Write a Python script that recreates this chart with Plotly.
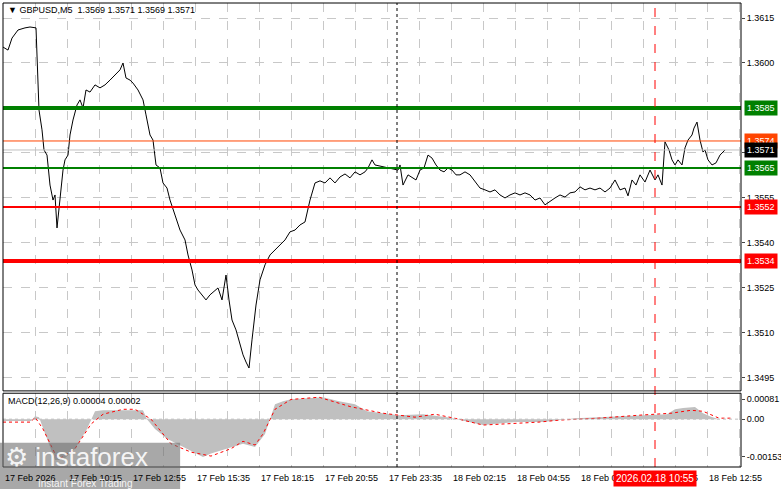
import plotly.graph_objects as go

# price trace (bar index, close)
bars = [0,2.5,4.5,7.5,11,13.5,16.5,17,18,19.5,20.5,22,23.5,25,26,27,28.5,30,31,32.5,33.5,35,37,38.5,40,41.5,43.5,46,48.5,51,53.5,56,58.5,60,61.5,63.5,65,67.5,70,71.5,73.5,75,76.5,78.5,80,82,83.5,86,88.5,91,92.5,94.5,96,97.5,99.5,101.5,103.5,105.5,107.5,109.5,111.5,113,114.5,116.5,118.5,120,121.5,123,124.5,126.5,128.5,131,133.5,136,138.5,141,143.5,146,148.5,151,153.5,156,158.5,161,163.5,166,168.5,171,173.5,176,178.5,181,182.5,184.5,186,197.5,198.5,200,202.5,204.5,206.5,208.5,210.5,212.5,214.5,216.5,218.5,220.5,222.5,224.5,226.5,228.5,231,233.5,236,238.5,241,243.5,246,248.5,251,253.5,256,258.5,261,263.5,266,268.5,271,273.5,276,278.5,281,283.5,286,288.5,291,293.5,296,298.5,301,303.5,306,308.5,311,312.5,314.5,316.5,318.5,321,323.5,326,327.5,329.5,331,333,334.5,336,337.5,339.5,341,342.5,344.5,345.5,347,348.5,350,351,352.5,354.5,356.5,358.5,361]
close = [1.36053,1.36043,1.36083,1.3611,1.36117,1.3612,1.36117,1.3601,1.35843,1.35777,1.3571,1.35693,1.35593,1.35543,1.3556,1.3545,1.35543,1.35643,1.35677,1.35693,1.3576,1.35810,1.3586,1.35877,1.35850,1.35910,1.35903,1.35927,1.35917,1.35927,1.35943,1.3596,1.35977,1.3600,1.3595,1.35943,1.35933,1.35910,1.35877,1.35827,1.3576,1.35743,1.35660,1.35650,1.3560,1.35583,1.35543,1.35493,1.35443,1.3541,1.35360,1.3531,1.3526,1.35243,1.35227,1.3521,1.35227,1.35237,1.3525,1.3521,1.35293,1.3521,1.35143,1.3511,1.35060,1.35027,1.35003,1.34983,1.35077,1.35193,1.35277,1.35327,1.3536,1.35377,1.35393,1.3541,1.35437,1.35443,1.3546,1.3547,1.35543,1.3560,1.35607,1.3560,1.35617,1.35600,1.35620,1.35630,1.35617,1.35637,1.35627,1.35637,1.3565,1.35677,1.35660,1.35643,1.35660,1.35593,1.35627,1.35617,1.3561,1.35643,1.3565,1.35693,1.35683,1.35660,1.35643,1.35637,1.3565,1.35643,1.35627,1.35627,1.35637,1.35627,1.35603,1.35583,1.35577,1.3557,1.35577,1.3556,1.35550,1.3556,1.35567,1.3556,1.35567,1.3556,1.35543,1.3555,1.35527,1.3554,1.3555,1.3556,1.35553,1.35567,1.3557,1.35587,1.35577,1.35583,1.35577,1.35583,1.3557,1.35583,1.3561,1.35577,1.35583,1.35557,1.3561,1.35593,1.35627,1.35603,1.35643,1.35610,1.35627,1.35593,1.35737,1.3571,1.35677,1.3566,1.35677,1.3566,1.35717,1.35743,1.3576,1.35783,1.35803,1.35743,1.35703,1.35710,1.35677,1.3566,1.35667,1.35693,1.3571,1.35717]

# MACD histogram and signal (bar index, value)
macd_bars = [0,14,16,18,22,26,30,36,42,46,50,70,72,76,82,100,104,120,126,131,136,140,144,160,168,176,182,198,210,222,240,256,270,286,298,310,322,332,336,340,346,350,354,358,362]
macd_hist = [-0.00008,-0.00008,0.00012,0.00008,-0.0008,-0.00166,-0.00166,-0.0012,-0.0004,0.00032,0.00036,0.00036,0.0,-0.0004,-0.0008,-0.00154,-0.0014,-0.001,-0.00113,-0.0006,0.0006,0.00073,0.00081,0.00089,0.00073,0.0006,0.00032,0.00016,0.0002,0.00008,-0.00024,-0.00012,-0.00012,0.00004,0.00008,0.00012,0.00016,0.0002,0.0004,0.00045,0.00049,0.00024,0.0001,0.0,0.0]
sig_bars = [0,14,16,20,26,28,36,44,50,60,66,74,84,94,104,114,120,126,130,136,144,158,174,190,198,206,216,228,240,258,268,278,298,318,334,344,350,358,364]
sig_vals = [-0.00012,-0.00012,0.00008,-0.0004,-0.0014,-0.00162,-0.0012,-0.0002,0.0002,0.0004,0.0004,0.0,-0.001,-0.00134,-0.0015,-0.0012,-0.0009,-0.00105,-0.0006,0.0004,0.0008,0.00089,0.0005,0.00024,0.00016,0.00008,0.0002,0.0,-0.00024,-0.00016,-0.00012,-0.00004,0.00004,0.00016,0.00024,0.00036,0.00032,0.00004,0.00004]

price_ticks = [1.3495,1.3510,1.3525,1.3540,1.3555,1.3570,1.3600,1.3615]
time_ticks = [0,32,64,96,128,160,192,224,256,288,320,352]
time_labels = ["17 Feb 2026","17 Feb 10:15","17 Feb 12:55","17 Feb 15:35","17 Feb 18:15","17 Feb 20:55",
               "17 Feb 23:35","18 Feb 02:15","18 Feb 04:55","18 Feb 07:35","18 Feb 10:15","18 Feb 12:55"]
levels = [(1.3585,"#008000",4),(1.3574,"#ff4500",1),(1.3565,"#008000",2),(1.3552,"#ff0000",2),(1.3534,"#ff0000",4)]
last_price = 1.3571
now_bar = 326
sep_bar = 197

F = "Liberation Sans"
fig = go.Figure()
fig.add_trace(go.Scatter(x=macd_bars, y=macd_hist, mode="lines", line=dict(color="#c0c0c0", width=0),
                         fill="tozeroy", fillcolor="#c0c0c0", xaxis="x", yaxis="y2", showlegend=False))
fig.add_trace(go.Scatter(x=sig_bars, y=sig_vals, mode="lines", line=dict(color="#ff0000", width=1, dash="dot"),
                         xaxis="x", yaxis="y2", showlegend=False))
fig.add_trace(go.Scatter(x=bars, y=close, mode="lines", line=dict(color="black", width=1),
                         xaxis="x", yaxis="y", showlegend=False))

shapes = []
for v, c, w in levels:
    shapes.append(dict(type="line", xref="paper", x0=0, x1=1, yref="y", y0=v, y1=v, line=dict(color=c, width=w)))
shapes.append(dict(type="line", xref="paper", x0=0, x1=1, yref="y", y0=last_price, y1=last_price, line=dict(color="#c0c0c0", width=1)))
shapes.append(dict(type="line", xref="x", x0=sep_bar, x1=sep_bar, yref="paper", y0=0, y1=1, line=dict(color="black", width=1, dash="dot")))
shapes.append(dict(type="line", xref="x", x0=now_bar, x1=now_bar, yref="paper", y0=0, y1=1, line=dict(color="#ff0000", width=1, dash="dash")))
shapes.append(dict(type="line", xref="paper", x0=0, x1=1, yref="y2", y0=0, y1=0, line=dict(color="#c0c0c0", width=1, dash="dot")))
shapes.append(dict(type="rect", xref="paper", yref="paper", x0=0, x1=1, y0=0.164, y1=1, line=dict(color="black", width=1)))
shapes.append(dict(type="rect", xref="paper", yref="paper", x0=0, x1=1, y0=0, y1=0.159, line=dict(color="black", width=1)))
# watermark
shapes.append(dict(type="rect", xref="paper", yref="paper", x0=-0.005, x1=0.24, y0=-0.05, y1=0.052,
                   fillcolor="rgba(110,110,110,0.6)", line_width=0, layer="above"))

ann = []
for v, c, w in levels:
    ann.append(dict(xref="paper", x=1.004, yref="y", y=v, text=f"{v:.4f}", showarrow=False, xanchor="left",
                    font=dict(family=F, size=9, color="white"), bgcolor=c, borderpad=2))
ann.append(dict(xref="paper", x=1.004, yref="y", y=last_price, text=f"{last_price:.4f}", showarrow=False, xanchor="left",
                font=dict(family=F, size=9, color="white"), bgcolor="black", borderpad=2))
for t, lab in zip(time_ticks, time_labels):
    ann.append(dict(xref="x", x=t, yref="paper", y=-0.008, text=lab, showarrow=False, xanchor="left", yanchor="top",
                    font=dict(family=F, size=9, color="black")))
ann.append(dict(xref="x", x=now_bar, yref="paper", y=-0.006, text="2026.02.18 10:55", showarrow=False, xanchor="center",
                yanchor="top", font=dict(family=F, size=10, color="white"), bgcolor="#ff0000", borderpad=2))
ann.append(dict(xref="paper", x=0.004, yref="paper", y=1.0, text="▼ GBPUSD,M5  1.3569 1.3571 1.3569 1.3571", showarrow=False,
                xanchor="left", yanchor="top", font=dict(family=F, size=9, color="black")))
ann.append(dict(xref="paper", x=0.004, yref="paper", y=0.157, text="MACD(12,26,9) 0.00004 0.00002", showarrow=False,
                xanchor="left", yanchor="top", font=dict(family=F, size=9, color="black")))
ann.append(dict(xref="paper", x=0.0, yref="paper", y=0.058, text="⚙ instaforex", showarrow=False,
                xanchor="left", yanchor="top", font=dict(family=F, size=26, color="rgba(255,255,255,0.9)")))
ann.append(dict(xref="paper", x=0.045, yref="paper", y=-0.02, text="Instant Forex Trading", showarrow=False,
                xanchor="left", yanchor="top", font=dict(family=F, size=10, color="rgba(255,255,255,0.9)")))

grid = dict(showgrid=True, gridcolor="#c8c8c8", griddash="dash", gridwidth=1)
fig.update_layout(
    width=781, height=489, margin=dict(l=3, r=40, t=3, b=22, autoexpand=False),
    paper_bgcolor="white", plot_bgcolor="white",
    font=dict(family=F, size=9, color="black"),
    xaxis=dict(range=[0, 369], tickvals=list(range(16, 369, 16)), showticklabels=False, zeroline=False,
               automargin=False, **grid),
    yaxis=dict(domain=[0.164, 1], range=[1.349067, 1.3620], side="right", tickvals=price_ticks,
               tickformat=".4f", ticks="outside", ticklen=3, zeroline=False, automargin=False, **grid),
    yaxis2=dict(domain=[0, 0.159], range=[-0.001944, 0.001053], side="right", tickvals=[-0.00153, 0, 0.00081],
                ticktext=["-0.00153", "0.00", "0.00081"], ticks="outside", ticklen=3, showgrid=False,
                zeroline=False, automargin=False),
    shapes=shapes, annotations=ann,
)
fig.write_html("out.html", config={"displayModeBar": False},
               post_script="document.body.style.margin='0';document.body.style.overflow='hidden';")
